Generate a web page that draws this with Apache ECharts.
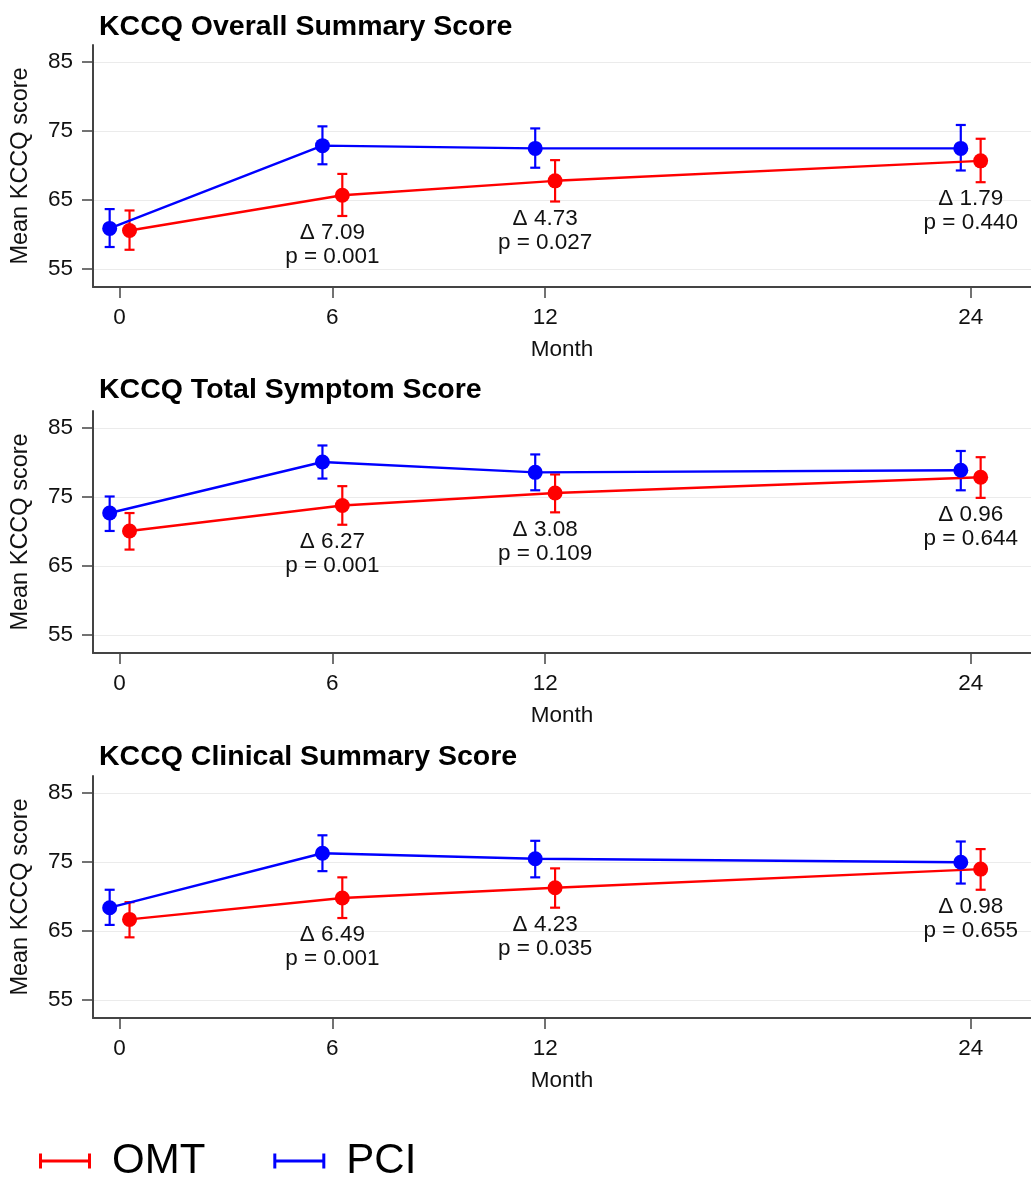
<!DOCTYPE html>
<html><head><meta charset="utf-8">
<script src="https://cdn.jsdelivr.net/npm/echarts@6/dist/echarts.min.js"></script>
<style>html,body{margin:0;padding:0;background:#fff}#c{width:1031px;height:1180px}</style>
</head><body><div id="c"></div>
<script>
// ---------- data ----------
const months = [0, 6, 12, 24];
const annotMonths = [6, 12, 24];
const yTicks = [55, 65, 75, 85];
const panelTitles = ['KCCQ Overall Summary Score', 'KCCQ Total Symptom Score', 'KCCQ Clinical Summary Score'];
const groupNames = ['OMT', 'PCI'];

// KCCQ Overall Summary Score
const overallPciMean = [60.9, 72.9, 72.5, 72.5];
const overallPciLow  = [58.2, 70.2, 69.7, 69.3];
const overallPciHigh = [63.7, 75.7, 75.4, 75.9];
const overallOmtMean = [60.6, 65.7, 67.8, 70.7];
const overallOmtLow  = [57.8, 62.7, 64.8, 67.6];
const overallOmtHigh = [63.5, 68.8, 70.8, 73.9];
const overallDelta = [7.09, 4.73, 1.79];
const overallP     = [0.001, 0.027, 0.440];

// KCCQ Total Symptom Score
const symptomPciMean = [72.7, 80.1, 78.6, 78.9];
const symptomPciLow  = [70.1, 77.7, 76.0, 76.0];
const symptomPciHigh = [75.1, 82.5, 81.2, 81.7];
const symptomOmtMean = [70.1, 73.8, 75.6, 77.9];
const symptomOmtLow  = [67.4, 71.0, 72.8, 74.9];
const symptomOmtHigh = [72.7, 76.6, 78.3, 80.8];
const symptomDelta = [6.27, 3.08, 0.96];
const symptomP     = [0.001, 0.109, 0.644];

// KCCQ Clinical Summary Score
const clinicalPciMean = [68.4, 76.3, 75.5, 75.0];
const clinicalPciLow  = [65.9, 73.7, 72.8, 71.9];
const clinicalPciHigh = [71.0, 78.9, 78.1, 78.0];
const clinicalOmtMean = [66.7, 69.8, 71.3, 74.0];
const clinicalOmtLow  = [64.1, 66.9, 68.4, 71.0];
const clinicalOmtHigh = [69.2, 72.8, 74.1, 76.9];
const clinicalDelta = [6.49, 4.23, 0.98];
const clinicalP     = [0.001, 0.035, 0.655];

// ---------- layout / style ----------
const panels = [
  {pci: [overallPciMean, overallPciLow, overallPciHigh], omt: [overallOmtMean, overallOmtLow, overallOmtHigh], delta: overallDelta, p: overallP},
  {pci: [symptomPciMean, symptomPciLow, symptomPciHigh], omt: [symptomOmtMean, symptomOmtLow, symptomOmtHigh], delta: symptomDelta, p: symptomP},
  {pci: [clinicalPciMean, clinicalPciLow, clinicalPciHigh], omt: [clinicalOmtMean, clinicalOmtLow, clinicalOmtHigh], delta: clinicalDelta, p: clinicalP}
];
const gridTops = [45, 411, 776];
const titleTops = [13, 376, 743];
const gridHeight = 242;
const dodge = {PCI: -0.28, OMT: 0.28};
const colors = {PCI: '#0000ff', OMT: '#ff0000'};
const FONT = '"Liberation Sans", Arial, Helvetica, sans-serif';

function errRender(params, api) {
  const x = api.value(0), lo = api.value(1), hi = api.value(2);
  const a = api.coord([x, lo]), b = api.coord([x, hi]);
  const w = 5;
  const style = {stroke: api.visual('color'), lineWidth: 2.2};
  return {type: 'group', children: [
    {type: 'line', shape: {x1: a[0], y1: a[1], x2: b[0], y2: b[1]}, style},
    {type: 'line', shape: {x1: a[0] - w, y1: a[1], x2: a[0] + w, y2: a[1]}, style},
    {type: 'line', shape: {x1: b[0] - w, y1: b[1], x2: b[0] + w, y2: b[1]}, style}
  ]};
}
function annotRender(params, api) {
  const x = api.value(0), lo = api.value(1), d = api.value(2), p = api.value(3);
  const c = api.coord([x, lo]);
  return {type: 'text', x: c[0], y: c[1] + 5, style: {
    text: 'Δ ' + d.toFixed(2) + '\np = ' + p.toFixed(3),
    fill: '#111', fontSize: 22.5, fontFamily: FONT, lineHeight: 24,
    align: 'center', verticalAlign: 'top'
  }};
}

const grid = [], xAxis = [], yAxis = [], series = [], title = [];
panels.forEach((pn, i) => {
  grid.push({left: 93, right: 0, top: gridTops[i], height: gridHeight});
  title.push({text: panelTitles[i], left: 99, top: titleTops[i], padding: 0,
    textStyle: {fontSize: 28.5, fontWeight: 'bold', color: '#000', fontFamily: FONT}});
  xAxis.push({type: 'value', gridIndex: i, min: -0.75, max: 25.7,
    name: 'Month', nameLocation: 'middle', nameGap: 51,
    nameTextStyle: {fontSize: 22.5, color: '#111', fontFamily: FONT},
    axisLine: {show: true, onZero: false, lineStyle: {color: '#444', width: 2}},
    axisTick: {show: true, length: 11, customValues: months, lineStyle: {color: '#444', width: 1.5}},
    axisLabel: {customValues: months, margin: 19, fontSize: 22.5, color: '#111', fontFamily: FONT},
    splitLine: {show: false}});
  yAxis.push({type: 'value', gridIndex: i, min: 52.4, max: 87.5,
    name: 'Mean KCCQ score', nameLocation: 'middle', nameGap: 60,
    nameTextStyle: {fontSize: 23.5, color: '#111', fontFamily: FONT},
    axisLine: {show: true, onZero: false, lineStyle: {color: '#444', width: 2}},
    axisTick: {show: true, length: 11, customValues: yTicks, lineStyle: {color: '#444', width: 1.5}},
    axisLabel: {customValues: yTicks, margin: 20, fontSize: 22.5, color: '#111', fontFamily: FONT},
    splitLine: {show: true, lineStyle: {color: '#ebebeb', width: 1.2}}});
  ['OMT', 'PCI'].forEach(g => {
    const arr = g === 'PCI' ? pn.pci : pn.omt;
    series.push({type: 'custom', name: g, xAxisIndex: i, yAxisIndex: i,
      itemStyle: {color: colors[g]}, renderItem: errRender, z: 2,
      encode: {x: 0, y: [1, 2]},
      data: months.map((m, k) => [m + dodge[g], arr[1][k], arr[2][k]])});
  });
  ['OMT', 'PCI'].forEach(g => {
    const arr = g === 'PCI' ? pn.pci : pn.omt;
    series.push({type: 'line', name: g, xAxisIndex: i, yAxisIndex: i, z: 3,
      symbol: 'circle', symbolSize: 15, showSymbol: true,
      itemStyle: {color: colors[g]}, lineStyle: {color: colors[g], width: 2.4},
      data: months.map((m, k) => [m + dodge[g], arr[0][k]])});
  });
  series.push({type: 'custom', name: 'annot', xAxisIndex: i, yAxisIndex: i, z: 4,
    renderItem: annotRender, encode: {x: 0, y: 1},
    data: annotMonths.map((m, k) => [m, pn.omt[1][months.indexOf(m)], pn.delta[k], pn.p[k]])});
});

const legendIcon = 'path://M0,0h3v15h-3z M3,6h46v3h-46z M49,0h3v15h-3z';
const chart = echarts.init(document.getElementById('c'), null, {renderer: 'canvas'});
chart.setOption({
  animation: false,
  backgroundColor: '#fff',
  title, grid, xAxis, yAxis, series,
  legend: {left: 34, top: 1135, itemWidth: 52, itemHeight: 15, itemGap: 68,
    data: groupNames.map(n => ({name: n, icon: legendIcon})),
    textStyle: {fontSize: 42, color: '#000', fontFamily: FONT, padding: [0, 0, 0, 16]}}
});
</script></body></html>
